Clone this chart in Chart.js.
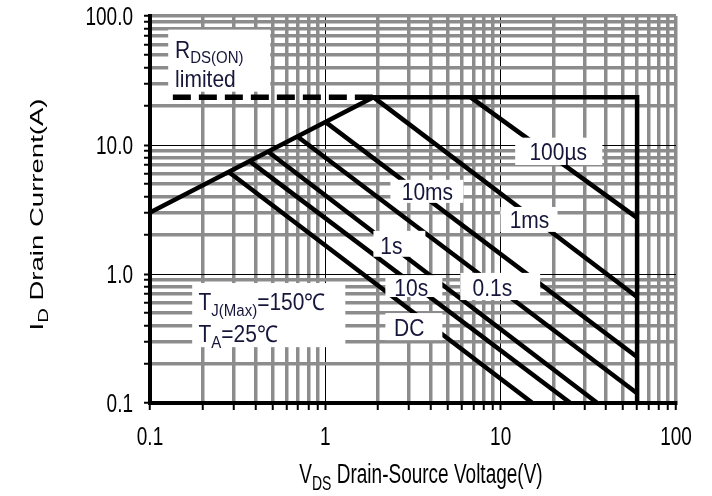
<!DOCTYPE html>
<html>
<head>
<meta charset="utf-8">
<script src="https://cdn.jsdelivr.net/npm/chart.js@4.4.1/dist/chart.umd.min.js"></script>
<style>
  html, body { margin: 0; padding: 0; background: #fff; }
  #wrap { width: 712px; height: 496px; }
</style>
</head>
<body>
<div id="wrap"><canvas id="soa" width="712" height="496"></canvas></div>
<script>
// Axis tick labels (decades)
const vdsTickValues = [0.1, 1, 10, 100];
const vdsTickLabels = ['0.1', '1', '10', '100'];
const idTickValues = [0.1, 1, 10, 100];
const idTickLabels = ['0.1', '1.0', '10.0', '100.0'];

// Safe operating area boundary: RDS(ON) limit -> current limit -> voltage limit
const boundaryV = [0.1, 1.88, 60, 60];
const boundaryI = [3.0, 23.5, 23.5, 0.1];

// Dashed continuation of the current limit into the RDS(ON) region
const limitDashV = [0.135, 1.88];
const limitDashI = [23.5, 23.5];

// Pulse-width limit lines (start on the RDS(ON) line / current limit)
const pulseNames  = ['100µs', '1ms', '10ms', '0.1s', '1s', '10s', 'DC'];
const pulseStartV = [6.72, 1.88, 1.0, 0.69, 0.47, 0.37, 0.28];
const pulseStartI = [23.5, 23.5, 15.1, 11.7, 8.9, 7.5, 6.2];
const pulseEndV   = [60, 60, 60, 60, 35.6, 25.0, 15.2];
const pulseEndI   = [2.72, 0.663, 0.227, 0.119, 0.1, 0.1, 0.1];

// Label placement in (V, A): text centre and white backing box [v1, v2, i1, i2]
const pulseLabelPlacement = {
  '100µs': { at: [21.3, 8.86], box: [12.1, 38.0, 7.0, 11.4] },
  '1ms':   { at: [14.6, 2.63], box: [9.96, 21.1, 2.12, 3.31] },
  '10ms':  { at: [3.82, 4.33], box: [2.35, 6.13, 3.56, 5.37] },
  '0.1s':  { at: [8.97, 0.778], box: [5.89, 16.8, 0.628, 1.02] },
  '1s':    { at: [2.38, 1.65], box: [1.88, 3.72, 1.36, 2.16] },
  '10s':   { at: [3.09, 0.778], box: [2.20, 4.65, 0.663, 0.98] },
  'DC':    { at: [3.01, 0.381], box: [2.20, 4.65, 0.307, 0.498] }
};

const FONT = "'Liberation Sans', Arial, sans-serif";
const GRID_GRAY = '#8c8c8c';
const LABEL_INK = '#16163a';

function toXY(vs, is) {
  return vs.map((v, k) => ({ x: v, y: is[k] }));
}

function isDecade(v) {
  const l = Math.log10(v);
  return Math.abs(l - Math.round(l)) < 1e-6;
}

// All 1..9 x 10^n gridlines between 0.1 and 100
function logTicks(scale) {
  const t = [];
  for (let e = -1; e < 2; e++) {
    for (let m = 1; m < 10; m++) t.push({ value: +(m * Math.pow(10, e)).toPrecision(3) });
  }
  t.push({ value: 100 });
  scale.ticks = t;
}

function gridColor(ctx) {
  const v = ctx.tick && ctx.tick.value;
  if (v == null) return GRID_GRAY;
  return (isDecade(v) && v > 0.1 && v < 100) ? '#000' : GRID_GRAY;
}
function gridWidth(ctx) {
  const v = ctx.tick && ctx.tick.value;
  if (v == null) return 3.5;
  return (isDecade(v) && v > 0.1 && v < 100) ? 1 : 3.5;
}

// Text with optional subscript runs
function richText(ctx, parts, x, y, o) {
  const main = o.size + 'px ' + FONT;
  const sub = (o.subSize || Math.round(o.size * 0.72)) + 'px ' + FONT;
  let w = 0;
  const widths = parts.map(p => {
    ctx.font = p.sub ? sub : main;
    const m = ctx.measureText(p.t).width;
    w += m;
    return m;
  });
  ctx.save();
  ctx.translate(x, y);
  if (o.rot) ctx.rotate(o.rot);
  ctx.scale(o.sx || 1, o.sy || 1);
  let cx = o.align === 'center' ? -w / 2 : (o.align === 'right' ? -w : 0);
  ctx.fillStyle = o.color || '#000';
  ctx.textAlign = 'left';
  ctx.textBaseline = 'alphabetic';
  parts.forEach((p, k) => {
    ctx.font = p.sub ? sub : main;
    ctx.fillText(p.t, cx, p.sub ? (o.subDrop != null ? o.subDrop : o.size * 0.28) : 0);
    cx += widths[k];
  });
  ctx.restore();
}

const soaText = {
  id: 'soaText',
  afterDatasetsDraw(chart) {
    const ctx = chart.ctx;
    const xs = chart.scales.x, ys = chart.scales.y;
    const px = v => xs.getPixelForValue(v);
    const py = i => ys.getPixelForValue(i);

    function whiteBox(b) {
      const x1 = px(b[0]), x2 = px(b[1]), y1 = py(b[3]), y2 = py(b[2]);
      ctx.fillStyle = '#fff';
      ctx.fillRect(x1, y1, x2 - x1, y2 - y1);
    }

    const LS = 21, LSY = 1.1;

    // RDS(ON) limited note
    whiteBox([0.127, 0.485, 25.9, 78.4]);
    richText(ctx, [{ t: 'R' }, { t: 'DS(ON)', sub: true }], px(0.139), py(47.5),
      { size: LS, subSize: 15, subDrop: 5, sy: LSY, color: LABEL_INK });
    richText(ctx, [{ t: 'limited' }], px(0.139), py(28.3),
      { size: LS, sy: LSY, color: LABEL_INK });

    // Temperature conditions
    whiteBox([0.174, 1.30, 0.271, 0.851]);
    richText(ctx, [{ t: 'T' }, { t: 'J(Max)', sub: true }, { t: '=150℃' }], px(0.189), py(0.525),
      { size: LS, subSize: 15, subDrop: 5, sy: LSY, color: LABEL_INK });
    richText(ctx, [{ t: 'T' }, { t: 'A', sub: true }, { t: '=25℃' }], px(0.189), py(0.296),
      { size: LS, subSize: 15, subDrop: 5, sy: LSY, color: LABEL_INK });

    // Pulse-width labels
    pulseNames.forEach(name => {
      const p = pulseLabelPlacement[name];
      whiteBox(p.box);
      richText(ctx, [{ t: name }], px(p.at[0]), py(p.at[1]) + 0.358 * LS * LSY,
        { size: LS, sy: LSY, align: 'center', color: LABEL_INK });
    });
  },
  afterDraw(chart) {
    const ctx = chart.ctx;
    const a = chart.chartArea;
    const xs = chart.scales.x, ys = chart.scales.y;
    const TS = 19, TSY = 1.35;

    vdsTickValues.forEach((v, k) => {
      richText(ctx, [{ t: vdsTickLabels[k] }], xs.getPixelForValue(v), a.bottom + 42,
        { size: TS, sy: TSY, align: 'center' });
    });
    idTickValues.forEach((v, k) => {
      richText(ctx, [{ t: idTickLabels[k] }], a.left - 17, ys.getPixelForValue(v) + 9,
        { size: TS, sy: TSY, align: 'right' });
    });

    // Axis titles
    richText(ctx, [{ t: 'V' }, { t: 'DS', sub: true }, { t: ' Drain-Source Voltage(V)' }],
      (a.left + a.right) / 2 + 8, a.bottom + 80,
      { size: 19, subSize: 14, subDrop: 5, sy: 1.45, align: 'center' });
    richText(ctx, [{ t: 'I' }, { t: 'D', sub: true }, { t: ' Drain Current(A)' }],
      43, (a.top + a.bottom) / 2 + 5,
      { size: 19, subSize: 14, subDrop: 5, sx: 1.45, rot: -Math.PI / 2, align: 'center' });
  }
};

const lineStyle = {
  borderColor: '#000',
  borderWidth: 4.5,
  pointRadius: 0,
  fill: false,
  tension: 0,
  borderJoinStyle: 'miter',
  borderCapStyle: 'butt'
};

const datasets = [
  Object.assign({ label: 'SOA boundary', data: toXY(boundaryV, boundaryI) }, lineStyle),
  Object.assign({}, lineStyle, {
    label: 'RDS(ON) limited', data: toXY(limitDashV, limitDashI),
    borderWidth: 5.5, borderDash: [18, 8]
  })
];
pulseNames.forEach((name, k) => {
  datasets.push(Object.assign({
    label: name,
    data: toXY([pulseStartV[k], pulseEndV[k]], [pulseStartI[k], pulseEndI[k]])
  }, lineStyle));
});

new Chart(document.getElementById('soa'), {
  type: 'line',
  data: { datasets },
  options: {
    responsive: false,
    animation: false,
    devicePixelRatio: 1,
    layout: { padding: { left: 0, top: 16, right: 36, bottom: 0 } },
    plugins: { legend: { display: false }, tooltip: { enabled: false } },
    scales: {
      x: {
        type: 'logarithmic',
        min: 0.1, max: 100,
        afterBuildTicks: logTicks,
        afterFit: s => { s.height = 93; },
        ticks: { autoSkip: false, maxRotation: 0, callback: () => '', font: { size: 1 } },
        grid: { color: gridColor, lineWidth: gridWidth, tickLength: 7, tickColor: '#000', tickWidth: 2 },
        border: { color: '#000', width: 4 }
      },
      y: {
        type: 'logarithmic',
        min: 0.1, max: 100,
        afterBuildTicks: logTicks,
        afterFit: s => { s.width = 150; },
        ticks: { autoSkip: false, callback: () => '', font: { size: 1 } },
        grid: { color: gridColor, lineWidth: gridWidth, tickLength: 6, tickColor: '#000', tickWidth: 2 },
        border: { color: '#000', width: 4 }
      }
    }
  },
  plugins: [soaText]
});
</script>
</body>
</html>
